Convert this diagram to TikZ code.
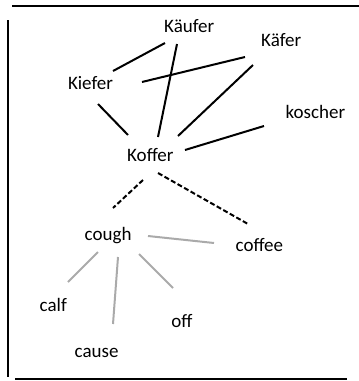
\documentclass[tikz,border=0pt]{standalone}
\usepackage{fontspec}
\setmainfont{Carlito}
\begin{document}
\begin{tikzpicture}[x=1pt,y=-1pt,
  word/.style={anchor=base west,inner sep=0pt,font=\fontsize{19}{21}\selectfont},
  blk/.style={line width=2pt,black},
  dsh/.style={line width=2pt,black,dash pattern=on 5pt off 2.5pt},
  gry/.style={line width=2pt,color={rgb,255:red,170;green,170;blue,170}},
  frame/.style={line width=2.2pt,black}]
\useasboundingbox (0,0) rectangle (359,381);
% frame
\coordinate (ftl) at (12,6);
\coordinate (ftr) at (359,6);
\coordinate (flt) at (8,20);
\coordinate (flb) at (8,377);
\coordinate (fbl) at (15,379);
\coordinate (fbr) at (347,379);
\draw[frame] (ftl) -- (ftr);
\draw[frame] (flt) -- (flb);
\draw[frame] (fbl) -- (fbr);
% words
\node[word] (kaeufer) at (164,32.3) {Käufer};
\node[word] (kaefer) at (261,46.7) {Käfer};
\node[word] (kiefer) at (67.8,89.3) {Kiefer};
\node[word] (koscher) at (285.5,118.3) {koscher};
\node[word] (koffer) at (127,161) {Koffer};
\node[word] (cough) at (84.5,240) {cough};
\node[word] (coffee) at (235.5,251) {coffee};
\node[word] (calf) at (39.5,311.7) {calf};
\node[word] (cause) at (74.5,357.7) {cause};
\node[word] (off) at (171.2,327.7) {off};
% connector end points
\coordinate (a1) at (113,71);  \coordinate (a2) at (165,43);
\coordinate (b1) at (177,44);  \coordinate (b2) at (158,137);
\coordinate (c1) at (142,82);  \coordinate (c2) at (245,57);
\coordinate (d1) at (253,65);  \coordinate (d2) at (178,136);
\coordinate (e1) at (98,104);  \coordinate (e2) at (128,135);
\coordinate (f1) at (264,126); \coordinate (f2) at (185,150);
\coordinate (g1) at (143,180); \coordinate (g2) at (113,208);
\coordinate (h1) at (158,173); \coordinate (h2) at (248,224);
\coordinate (i1) at (148,236); \coordinate (i2) at (214,243);
\coordinate (j1) at (98,252);  \coordinate (j2) at (68,282);
\coordinate (k1) at (118,257); \coordinate (k2) at (113,324);
\coordinate (l1) at (139,254); \coordinate (l2) at (173,288);
% connectors
\draw[blk] (a1) -- (a2);
\draw[blk] (b1) -- (b2);
\draw[blk] (c1) -- (c2);
\draw[blk] (d1) -- (d2);
\draw[blk] (e1) -- (e2);
\draw[blk] (f1) -- (f2);
\draw[dsh] (g1) -- (g2);
\draw[dsh] (h1) -- (h2);
\draw[gry] (i1) -- (i2);
\draw[gry] (j1) -- (j2);
\draw[gry] (k1) -- (k2);
\draw[gry] (l1) -- (l2);
\end{tikzpicture}
\end{document}
